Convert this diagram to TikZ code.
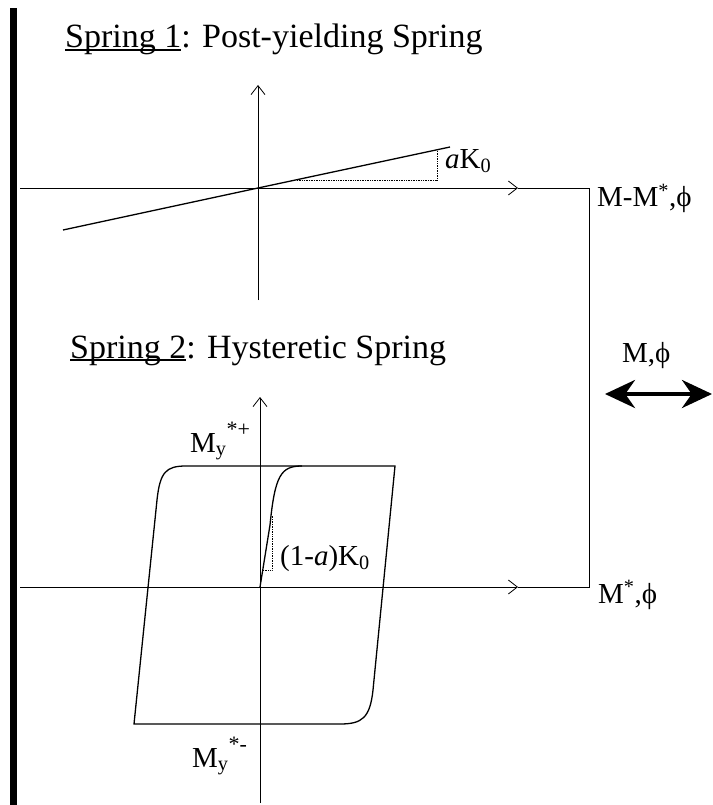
\documentclass[tikz,border=0pt]{standalone}
\usepackage{fontspec}
\setmainfont{Liberation Serif}
\usetikzlibrary{arrows.meta}
\newcommand\springname[1]{\setbox0\hbox{#1}\rlap{\rule[-0.09em]{\wd0}{0.05em}}\box0}
\tikzset{
  axis/.style={line width=0.8pt,-{Straight Barb[length=9pt,width=14pt]}},
  curve/.style={line width=1.3pt},
  guide/.style={line width=0.7pt,densely dotted},
  lbl/.style={inner sep=0pt,anchor=base west,font=\fontsize{29}{34}\selectfont},
  title/.style={inner sep=0pt,anchor=base west,font=\fontsize{34}{38}\selectfont}
}
\begin{document}
\begin{tikzpicture}[x=1pt,y=-1pt]
\useasboundingbox (0,0) rectangle (712,805);
% wall
\fill (10,8) rectangle (17,805);

% spring 1
\coordinate (O1) at (258,188);
\node[title] (title1) at (65,48) {\springname{Spring 1}: Post-yielding Spring};
\draw[axis] (258,300) -- (258,85);
\draw[axis] (20,188) -- (518,188);
\draw[line width=0.8pt] (518,188) -- (589,188) -- (589,587) -- (518,587);
\draw[curve] (63,230) -- (O1) -- (450,147);
\draw[guide] (297,180) -- (437,180) -- (437,150);
\node[lbl] (slope1) at (445,168) {\textit{a}K\textsubscript{0}};
\node[lbl] (rel1) at (597,207) {M-M\textsuperscript{*},ϕ};

% spring 2
\coordinate (O2) at (260,587);
\node[title] (title2) at (70,358) {\springname{Spring 2}: Hysteretic Spring};
\draw[axis] (260,803) -- (260,397);
\draw[axis] (20,587) -- (518,587);
\draw[curve] (134,724) -- (157,500) .. controls (160,472) and (166,466) .. (186,466)
  -- (395,466) -- (373,690) .. controls (370,718) and (362,724) .. (340,724) -- cycle;
\draw[curve] (O2) -- (270,525) .. controls (275,475) and (281,466) .. (302,466);
\draw[guide] (263,570) -- (272,570) -- (272,516);
\node[lbl] (slope2) at (280,565) {(1-\textit{a})K\textsubscript{0}};
\node[lbl] (rel2) at (598,603) {M\textsuperscript{*},ϕ};
\node[lbl] (myp) at (190,452) {M\textsubscript{y}\raisebox{0.55em}{\fontsize{22}{22}\selectfont *+}};
\node[lbl] (mym) at (192,767) {M\textsubscript{y}\raisebox{0.55em}{\fontsize{22}{22}\selectfont *-}};

% applied load
\coordinate (A) at (605,394);
\coordinate (B) at (712,394);
\node[lbl] (load) at (622,362) {M,ϕ};
\draw[line width=4pt,{Stealth[length=30pt,width=28pt]}-{Stealth[length=30pt,width=28pt]}] (A) -- (B);
\end{tikzpicture}
\end{document}
